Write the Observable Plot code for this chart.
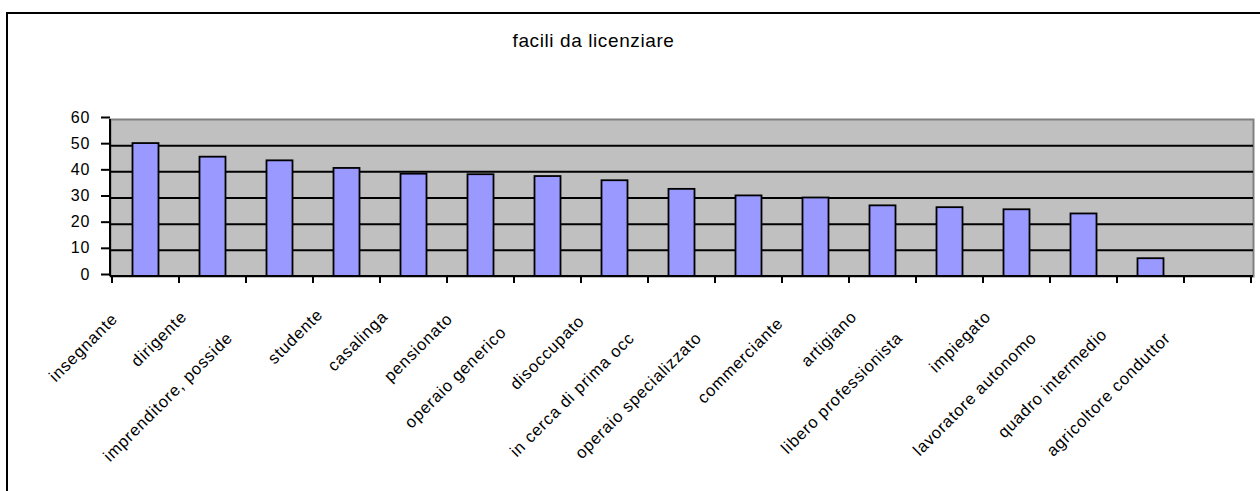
<!DOCTYPE html>
<html><head><meta charset="utf-8">
<script src="https://cdn.jsdelivr.net/npm/d3@7"></script>
<script src="https://cdn.jsdelivr.net/npm/@observablehq/plot@0.6"></script>
<style>
html,body{margin:0;padding:0;background:#fff;}
#wrap{position:relative;width:1260px;height:491px;overflow:hidden;font-family:"Liberation Sans",Arial,sans-serif;}
#title{position:absolute;left:0;width:1187px;top:30px;text-align:center;font-size:19px;letter-spacing:0.6px;color:#000;line-height:22px;}
#border{position:absolute;left:6px;top:12px;width:1270px;height:500px;border-left:2px solid #000;border-top:2px solid #000;box-sizing:border-box;}
#chart g[aria-label="y-axis tick label"] text{letter-spacing:1px;}
</style></head><body>
<div id="wrap"><div id="border"></div><div id="title"></div><div id="chart"></div></div>
<script>
const title = "facili da licenziare";
const categories = ["insegnante","dirigente","imprenditore, posside","studente","casalinga","pensionato","operaio generico","disoccupato","in cerca di prima occ","operaio specializzato","commerciante","artigiano","libero professionista","impiegato","lavoratore autonomo","quadro intermedio","agricoltore conduttor"];
const values = [50.8, 45.6, 44.2, 41.3, 39.1, 38.9, 38.2, 36.6, 33.3, 30.8, 30.0, 27.0, 26.3, 25.5, 23.9, 6.8, null];
const yTicks = [0,10,20,30,40,50,60];

document.getElementById("title").textContent = title;
const data = categories.map((c,i)=>({cat:c, v:values[i]}));
const W = 1260, H = 491, ML = 110, MR = 7, MT = 119, MB = 215;

const xTicksMark = (index, scales) => {
  const x = scales.x, y0 = scales.y(0);
  const bw = x.bandwidth ? x.bandwidth() : (W-ML-MR)/categories.length;
  const g = d3.create("svg:g").attr("stroke","#000").attr("stroke-width",2);
  const pos = categories.map(c=>x(c)).concat([x(categories[categories.length-1])+bw]);
  pos.forEach(p=>g.append("line").attr("x1",p).attr("x2",p).attr("y1",y0).attr("y2",y0+7));
  g.append("line").attr("x1",ML).attr("x2",W-MR).attr("y1",y0).attr("y2",y0);
  g.append("line").attr("x1",ML).attr("x2",ML).attr("y1",scales.y(60)).attr("y2",y0);
  return g.node();
};

const xLabelsMark = (index, scales) => {
  const x = scales.x, y0 = scales.y(0);
  const bw = x.bandwidth ? x.bandwidth() : (W-ML-MR)/categories.length;
  const g = d3.create("svg:g").attr("font-size",16.5).attr("letter-spacing","0.8px")
    .attr("font-family","Liberation Sans, Arial, sans-serif").attr("fill","#000");
  categories.forEach(c=>{
    const cx = x(c) + bw/2;
    const s = Math.max(-6, Math.min(19, 2.2*(c.length-10)));
    const ex = cx - 27 - s, ey = y0 + 44 + s;
    g.append("text").attr("text-anchor","end")
      .attr("transform",`translate(${ex},${ey}) rotate(-45)`).text(c);
  });
  return g.node();
};

const plot = Plot.plot({
  width: W, height: H,
  marginLeft: ML, marginRight: MR, marginTop: MT, marginBottom: MB,
  style: {background:"transparent", fontFamily:"Liberation Sans, Arial, sans-serif", color:"#000", overflow:"visible"},
  x: {type:"band", domain: categories, paddingInner:0, paddingOuter:0, axis:null},
  y: {domain:[0,60], axis:null},
  marks: [
    Plot.frame({fill:"#C0C0C0", stroke:"#808080", strokeWidth:2}),
    Plot.ruleY(yTicks.filter(d=>d>0 && d<60), {stroke:"#000", strokeWidth:2}),
    Plot.barY(data.filter(d=>d.v!=null), {x:"cat", y:"v", fill:"#9999FF", stroke:"#000", strokeWidth:1.8, insetLeft:20.5, insetRight:20.5}),
    Plot.axisY(yTicks, {anchor:"left", label:null, tickSize:9, tickPadding:11, strokeWidth:2, fontSize:16, dy:-2, tickFormat:d=>String(d)}),
    xTicksMark,
    xLabelsMark
  ]
});
document.getElementById("chart").appendChild(plot);
</script>
</body></html>
